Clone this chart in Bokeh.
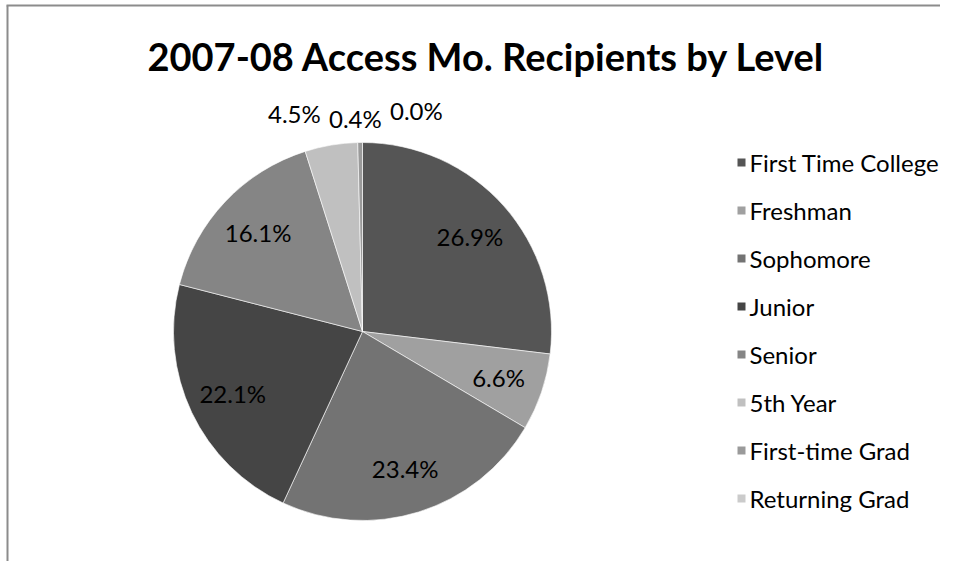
import math
from bokeh.plotting import figure
from bokeh.models import Range1d
from bokeh.core.properties import value
from bokeh.embed import file_html
from bokeh.resources import INLINE

# ---- data ----
categories = ["First Time College", "Freshman", "Sophomore", "Junior",
              "Senior", "5th Year", "First-time Grad", "Returning Grad"]
shares = [26.9, 6.6, 23.4, 22.1, 16.1, 4.5, 0.4, 0.0]
colors = ["#555555", "#a0a0a0", "#737373", "#454545",
          "#858585", "#c0c0c0", "#9a9a9a", "#cbcbcb"]
title_text = "2007-08 Access Mo. Recipients by Level"

# ---- layout (pixels, origin top-left of the canvas) ----
W, H = 940, 561
def SY(y):
    return H - y

FONT = "Lato"
p = figure(width=W, height=H, x_range=Range1d(0, W), y_range=Range1d(0, H),
           x_axis_type=None, y_axis_type=None, output_backend="svg",
           toolbar_location=None, min_border=0)
p.grid.visible = False
p.outline_line_color = None
p.background_fill_color = "white"
p.border_fill_color = "white"

# chart-area border (left and top visible)
p.segment(x0=[7, 6], y0=[SY(H), SY(5)], x1=[7, W], y1=[SY(5), SY(5)],
          line_color="#8c8c8c", line_width=2)

# title
p.text(x=[486], y=[SY(55)], text=[title_text], text_align="center",
       text_baseline="alphabetic", text_font=value(FONT),
       text_font_style="bold", text_font_size="38px", text_color="black")

# pie
cx, cy, R = 362, SY(331), 189
total = sum(shares)
cum = 0.0
starts, ends, mids = [], [], []
for s in shares:
    a0 = math.pi / 2 - 2 * math.pi * cum / total
    cum += s
    a1 = math.pi / 2 - 2 * math.pi * cum / total
    starts.append(a0); ends.append(a1); mids.append((a0 + a1) / 2)

idx = [i for i, s in enumerate(shares) if s > 0]
p.wedge(x=cx, y=cy, radius=R,
        start_angle=[starts[i] for i in idx], end_angle=[ends[i] for i in idx],
        direction="clock", fill_color=[colors[i] for i in idx],
        line_color="white", line_width=0.6)

# data labels
in_x, in_y, in_t = [], [], []
out = []
for i, s in enumerate(shares):
    lab = f"{s:.1f}%"
    if s >= 6:
        r = 0.76 * R
        in_x.append(cx + r * math.cos(mids[i])); in_y.append(cy + r * math.sin(mids[i]))
        in_t.append(lab)
    else:
        r = R + 32
        out.append([cx + r * math.cos(mids[i]), cy + r * math.sin(mids[i]), lab])
# spread outside labels horizontally to avoid overlaps
out.sort(key=lambda o: o[0])
gap = 61
mean_x = sum(o[0] for o in out) / len(out)
n = len(out)
for k, o in enumerate(out):
    o[0] = mean_x + 6 + (k - (n - 1) / 2) * gap
ys_off = [0, -8, 0]
for k, o in enumerate(out):
    o[1] = o[1] + ys_off[k % 3]

p.text(x=in_x, y=in_y, text=in_t, text_align="center", text_baseline="middle",
       text_font=value(FONT), text_font_size="24px", text_color="black")
p.text(x=[o[0] for o in out], y=[o[1] for o in out], text=[o[2] for o in out],
       text_align="center", text_baseline="middle",
       text_font=value(FONT), text_font_size="24px", text_color="black")

# legend
ly = [SY(162 + 48 * k) for k in range(len(categories))]
p.rect(x=[741] * len(categories), y=ly, width=8, height=8,
       fill_color=colors, line_color=None)
p.text(x=[749] * len(categories), y=ly, text=categories, text_align="left",
       text_baseline="middle", text_font=value(FONT), text_font_size="24px",
       text_color="black")

open("out.html", "w").write(file_html(p, INLINE))
